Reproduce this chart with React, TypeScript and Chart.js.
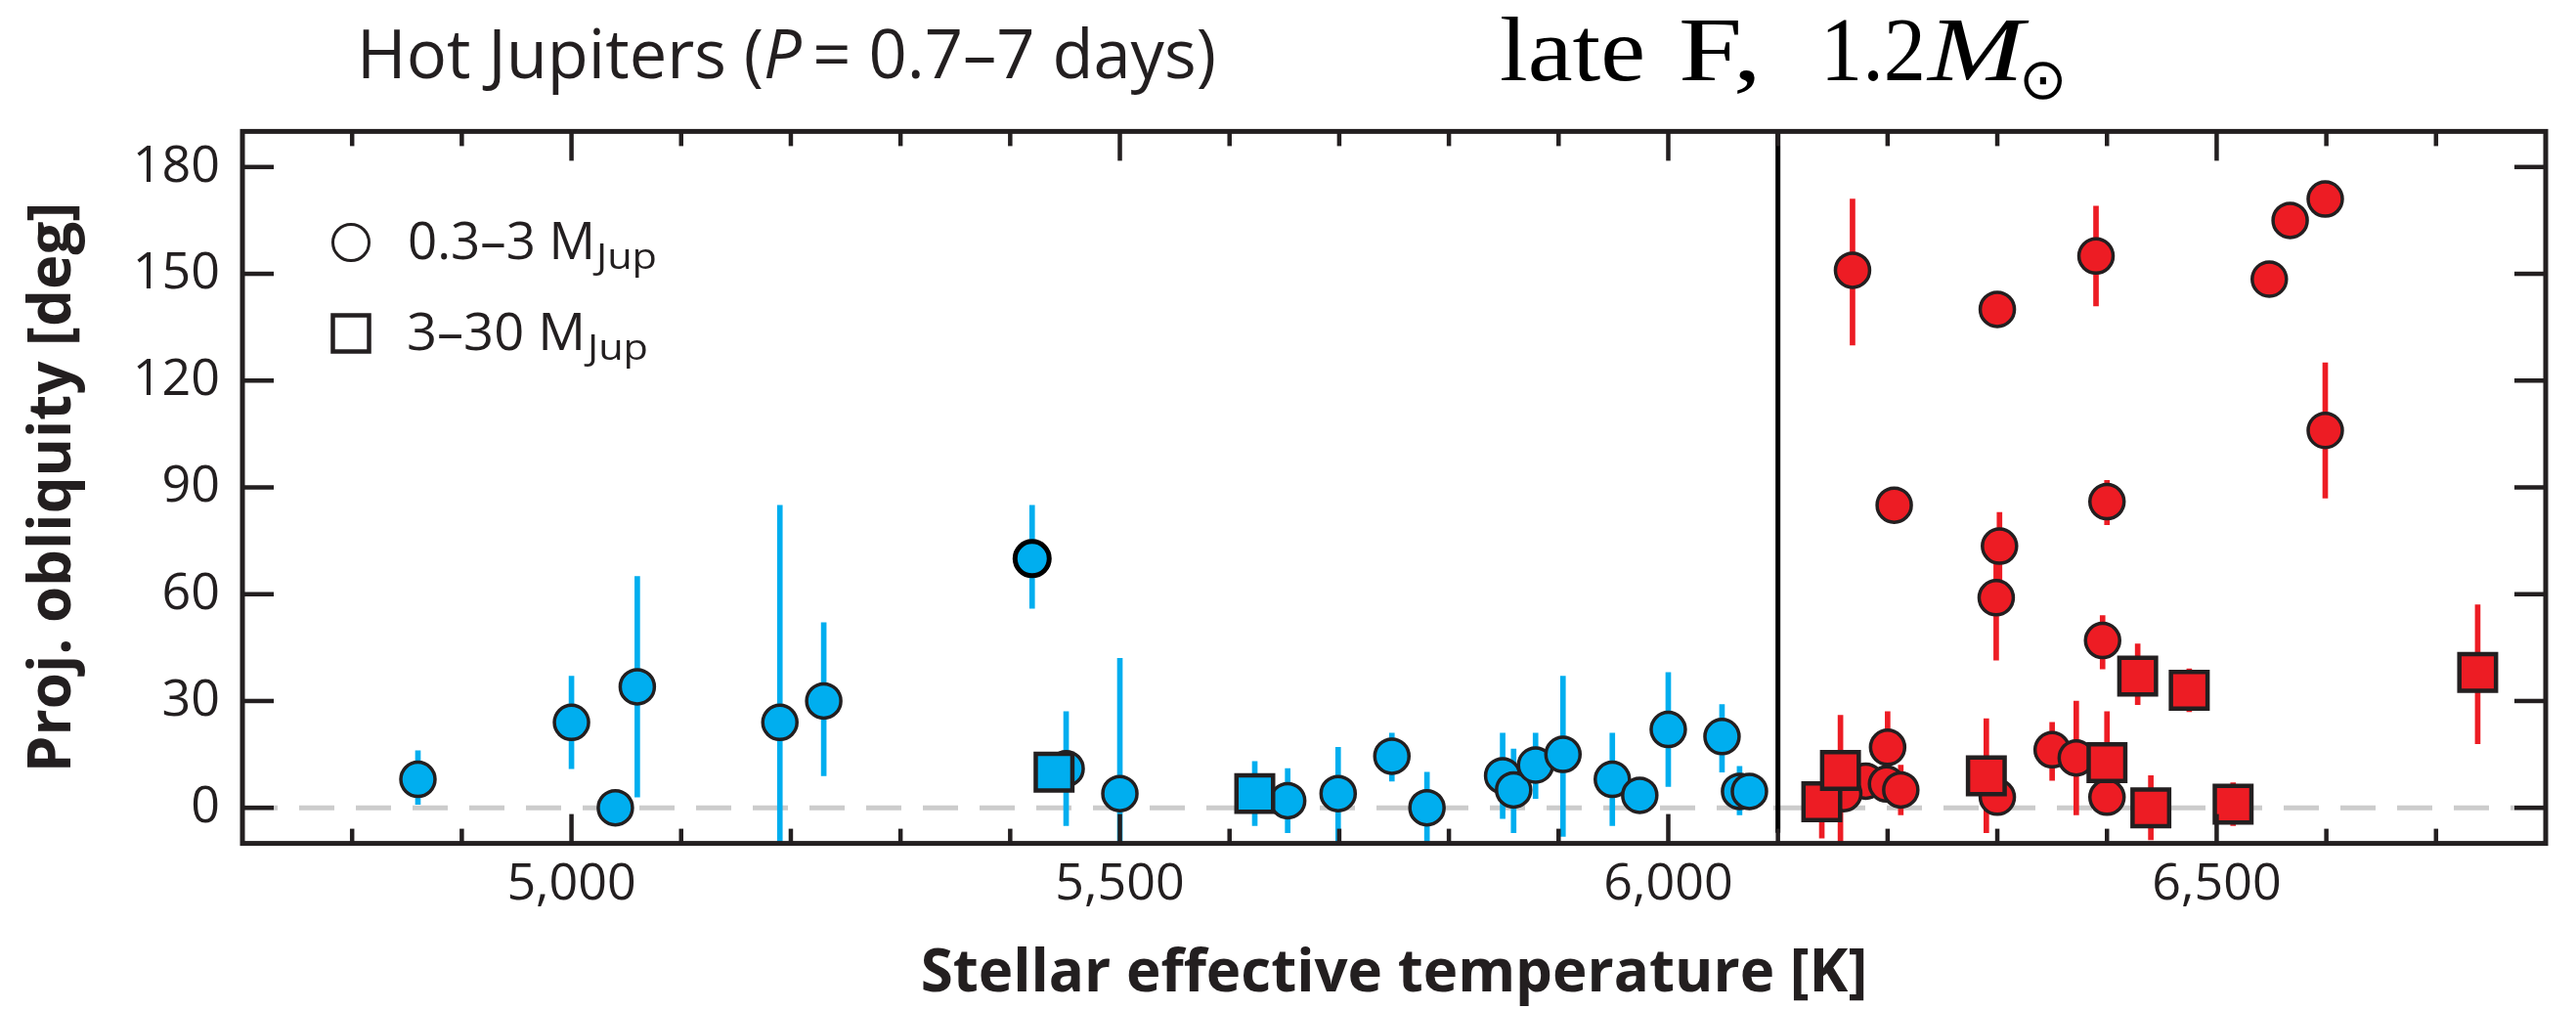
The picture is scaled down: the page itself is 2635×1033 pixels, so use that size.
import React, { useEffect, useRef } from 'react';
import Chart from 'chart.js/auto';

// ---------- axis ranges & ticks ----------
const X_MIN = 4700;
const X_MAX = 6800;
const Y_MIN = -10;
const Y_MAX = 190;
const xMajorTicks = [5000, 5500, 6000, 6500];
const xMinorTicks = [4800, 4900, 5100, 5200, 5300, 5400, 5600, 5700, 5800, 5900, 6100, 6200, 6300, 6400, 6600, 6700];
const yTicks = [0, 30, 60, 90, 120, 150, 180];
const dividerTeff = 6100;

// ---------- blue (cool stars), 0.3–3 MJup circles ----------
const blueCircleTeff = [4860, 5000, 5040, 5060, 5190, 5230, 5451, 5500, 5653, 5699, 5748, 5780, 5849, 5859, 5879, 5904, 5949, 5974, 6000, 6049, 6065, 6074];
const blueCircleObl = [8, 24, 0, 34, 24, 30, 11, 4, 2, 4, 14.5, 0, 9, 5, 12, 15, 8, 3.5, 22, 20, 4.6, 4.6];
const blueCircleLow = [1, 11, null, 3, -10, 9, -5, -10, -7, -10, 7.5, -10, -3, -7, 2.6, -8, -5, null, 6, 10, -2, null];
const blueCircleHigh = [16, 37, null, 65, 85, 52, 27, 42, 11, 17, 21, 10, 21, 16.5, 21, 37, 21, null, 38, 29, 11.6, null];

// highlighted blue point
const blueHiTeff = [5420];
const blueHiObl = [70];
const blueHiLow = [56];
const blueHiHigh = [85];

// ---------- blue, 3–30 MJup squares ----------
const blueSquareTeff = [5440, 5623];
const blueSquareObl = [10, 4];
const blueSquareLow = [null, -5];
const blueSquareHigh = [null, 13];

// ---------- red (hot stars), 0.3–3 MJup circles ----------
const redCircleTeff = [6168, 6300, 6390, 6206, 6400, 6302, 6299, 6396, 6548, 6567, 6599, 6599, 6350, 6372, 6400, 6300, 6200, 6180, 6199, 6212, 6160];
const redCircleObl = [151, 140, 155, 85, 86, 73.5, 59, 47, 148.5, 165, 171, 106, 16.3, 14, 3, 3, 17, 7.5, 6.7, 5, 4];
const redCircleLow = [130, null, 141, null, 79.5, 64, 41.5, 39, null, 161, 168, 87, 7.7, -2, null, null, 8, null, null, -2, null];
const redCircleHigh = [171, null, 169, null, 92, 83, 75, 54, null, 170, 174, 125, 24, 30, null, null, 27, null, null, 12, null];

// ---------- red, 3–30 MJup squares ----------
const redSquareTeff = [6140, 6157, 6290, 6400, 6428, 6440, 6475, 6515, 6738];
const redSquareObl = [1.7, 10.5, 9, 12.7, 37, 0, 33, 1, 38];
const redSquareLow = [-8.5, -9.5, -7, -1, 29, -9, 27, -5, 18];
const redSquareHigh = [5, 26, 25, 27, 46, 9, 39, 7, 57];

const BLUE = '#00AEEF';
const RED = '#ED1C24';
const INK = '#231f20';

type Num = number | null;

function points(xs: number[], ys: number[]) {
  return xs.map((x, i) => ({ x, y: ys[i] }));
}

function errBars(xs: number[], lo: Num[], hi: Num[]) {
  const out: { x: number; y: [number, number] }[] = [];
  xs.forEach((x, i) => {
    const l = lo[i];
    const h = hi[i];
    if (l !== null && h !== null) out.push({ x, y: [l as number, h as number] });
  });
  return out;
}

function fmt(v: number) {
  return String(v).replace(/\B(?=(\d{3})+(?!\d))/g, ',');
}

function fitText(ctx: CanvasRenderingContext2D, text: string, x: number, y: number, font: string, width: number) {
  ctx.font = font;
  const w = ctx.measureText(text).width;
  const sx = width / w;
  ctx.save();
  ctx.translate(x, y);
  ctx.scale(sx, 1);
  ctx.fillText(text, 0, 0);
  ctx.restore();
  return sx;
}

const decorPlugin = {
  id: 'decor',
  beforeDraw(chart: any) {
    const { ctx, width, height } = chart;
    ctx.save();
    ctx.fillStyle = '#ffffff';
    ctx.fillRect(0, 0, width, height);
    ctx.restore();
  },
  afterDraw(chart: any) {
    const { ctx, chartArea: a, scales } = chart;
    const xs = scales.x;
    const ys = scales.y;
    ctx.save();
    ctx.strokeStyle = INK;
    ctx.lineWidth = 5;
    ctx.strokeRect(a.left, a.top, a.right - a.left, a.bottom - a.top);
    ctx.lineWidth = 4.5;
    const seg = (x1: number, y1: number, x2: number, y2: number) => {
      ctx.beginPath();
      ctx.moveTo(x1, y1);
      ctx.lineTo(x2, y2);
      ctx.stroke();
    };
    yTicks.forEach((v) => {
      const p = ys.getPixelForValue(v);
      seg(a.left, p, a.left + 32, p);
      seg(a.right - 32, p, a.right, p);
    });
    xMajorTicks.forEach((v) => {
      const p = xs.getPixelForValue(v);
      seg(p, a.bottom, p, a.bottom - 30);
      seg(p, a.top, p, a.top + 30);
    });
    xMinorTicks.forEach((v) => {
      const p = xs.getPixelForValue(v);
      seg(p, a.bottom, p, a.bottom - 15);
      seg(p, a.top, p, a.top + 15);
    });

    // legend markers
    ctx.lineWidth = 3;
    ctx.beginPath();
    ctx.arc(359, 248, 18.5, 0, Math.PI * 2);
    ctx.stroke();
    ctx.lineWidth = 4.5;
    ctx.strokeRect(359 - 18.5, 341 - 18.5, 37, 37);

    // legend labels
    ctx.fillStyle = INK;
    ctx.textBaseline = 'alphabetic';
    ctx.textAlign = 'left';
    fitText(ctx, '0.3\u20133 M', 417, 265, '400 53px "Open Sans"', 192);
    fitText(ctx, 'Jup', 610, 275, '400 36px "Open Sans"', 62);
    fitText(ctx, '3\u201330 M', 416, 358, '400 53px "Open Sans"', 183);
    fitText(ctx, 'Jup', 601, 368, '400 36px "Open Sans"', 62);

    // left title
    const f1 = '400 69px "Open Sans"';
    const f1i = 'italic 400 69px "Open Sans"';
    const parts: [string, string][] = [
      ['Hot Jupiters (', f1],
      ['P', f1i],
      ['\u2009= 0.7\u20137 days)', f1],
    ];
    let total = 0;
    parts.forEach(([t, f]) => {
      ctx.font = f;
      total += ctx.measureText(t).width;
    });
    const sx = 879 / total;
    ctx.save();
    ctx.translate(365, 80);
    ctx.scale(sx, 1);
    let cx = 0;
    parts.forEach(([t, f]) => {
      ctx.font = f;
      ctx.fillText(t, cx, 0);
      cx += ctx.measureText(t).width;
    });
    ctx.restore();

    // right title (LaTeX-style)
    ctx.fillStyle = '#000';
    fitText(ctx, 'late', 1534, 82, '400 94px "Liberation Serif"', 149);
    fitText(ctx, 'F,', 1717, 82, '400 94px "Liberation Serif"', 85);
    fitText(ctx, '1.2', 1862, 82, '400 94px "Liberation Serif"', 108);
    fitText(ctx, 'M', 1972, 82, 'italic 400 94px "Liberation Serif"', 98);
    // sun symbol subscript
    ctx.font = '400 50px "DejaVu Sans"';
    let m = ctx.measureText('\u2299');
    let h = m.actualBoundingBoxAscent + m.actualBoundingBoxDescent;
    const size = h > 0 ? (50 * 40) / h : 50;
    ctx.font = `400 ${size}px "DejaVu Sans"`;
    m = ctx.measureText('\u2299');
    ctx.fillText('\u2299', 2070 + m.actualBoundingBoxLeft, 63 + m.actualBoundingBoxAscent);
    ctx.restore();
  },
};

export default function App() {
  const ref = useRef<HTMLCanvasElement>(null);

  useEffect(() => {
    const canvas = ref.current;
    if (!canvas) return;
    const markerBase = { showLine: false, pointHoverRadius: 17.5 };
    const chart = new Chart(canvas, {
      type: 'scatter',
      data: {
        datasets: [
          {
            type: 'scatter',
            label: 'zero',
            data: [{ x: X_MIN, y: 0 }, { x: X_MAX, y: 0 }],
            showLine: true,
            borderColor: '#cccccc',
            borderWidth: 5,
            borderDash: [36, 22],
            pointRadius: 0,
            order: 8,
          } as any,
          {
            type: 'bar',
            label: 'blue errors',
            data: [
              ...errBars(blueCircleTeff, blueCircleLow, blueCircleHigh),
              ...errBars(blueHiTeff, blueHiLow, blueHiHigh),
              ...errBars(blueSquareTeff, blueSquareLow, blueSquareHigh),
            ],
            backgroundColor: BLUE,
            borderWidth: 0,
            barThickness: 5,
            grouped: false,
            order: 6,
          } as any,
          {
            type: 'bar',
            label: 'red errors',
            data: [
              ...errBars(redCircleTeff, redCircleLow, redCircleHigh),
              ...errBars(redSquareTeff, redSquareLow, redSquareHigh),
            ],
            backgroundColor: RED,
            borderWidth: 0,
            barThickness: 5,
            grouped: false,
            order: 6,
          } as any,
          {
            ...markerBase,
            type: 'scatter',
            label: '0.3–3 MJup (cool)',
            data: points(blueCircleTeff, blueCircleObl),
            pointStyle: 'circle',
            pointRadius: 17.5,
            pointBackgroundColor: BLUE,
            pointBorderColor: INK,
            pointBorderWidth: 3.5,
            order: 4,
          } as any,
          {
            ...markerBase,
            type: 'scatter',
            label: 'highlighted',
            data: points(blueHiTeff, blueHiObl),
            pointStyle: 'circle',
            pointRadius: 17.5,
            pointBackgroundColor: BLUE,
            pointBorderColor: '#000000',
            pointBorderWidth: 5,
            order: 3,
          } as any,
          {
            ...markerBase,
            type: 'scatter',
            label: '0.3–3 MJup (hot)',
            data: points(redCircleTeff, redCircleObl),
            pointStyle: 'circle',
            pointRadius: 17.5,
            pointBackgroundColor: RED,
            pointBorderColor: INK,
            pointBorderWidth: 3.5,
            order: 4,
          } as any,
          {
            ...markerBase,
            type: 'scatter',
            label: '3–30 MJup (cool)',
            data: points(blueSquareTeff, blueSquareObl),
            pointStyle: 'rect',
            pointRadius: 26.5,
            pointBackgroundColor: BLUE,
            pointBorderColor: INK,
            pointBorderWidth: 4.5,
            order: 2,
          } as any,
          {
            ...markerBase,
            type: 'scatter',
            label: '3–30 MJup (hot)',
            data: points(redSquareTeff, redSquareObl),
            pointStyle: 'rect',
            pointRadius: 26.5,
            pointBackgroundColor: RED,
            pointBorderColor: INK,
            pointBorderWidth: 4.5,
            order: 2,
          } as any,
          {
            type: 'scatter',
            label: 'divider',
            data: [{ x: dividerTeff, y: -7 }, { x: dividerTeff, y: Y_MAX }],
            showLine: true,
            borderColor: '#000000',
            borderWidth: 5,
            pointRadius: 0,
            order: 0,
          } as any,
        ],
      },
      options: {
        responsive: false,
        maintainAspectRatio: false,
        devicePixelRatio: 1,
        animation: false,
        events: [],
        layout: { padding: { left: 0, right: 15, top: 134.4, bottom: 0 } },
        plugins: {
          legend: { display: false },
          tooltip: { enabled: false },
          title: { display: false },
        },
        scales: {
          x: {
            type: 'linear',
            min: X_MIN,
            max: X_MAX,
            offset: false,
            grid: { display: false, drawTicks: false },
            border: { display: false },
            afterBuildTicks: (s: any) => {
              s.ticks = xMajorTicks.map((v) => ({ value: v }));
            },
            afterFit: (s: any) => {
              s.height = 1033 - 862.6;
            },
            ticks: {
              font: { family: '"Open Sans"', size: 52 },
              color: INK,
              padding: 11,
              maxRotation: 0,
              autoSkip: false,
              callback: (v: any) => fmt(Number(v)),
            },
            title: {
              display: true,
              text: 'Stellar effective temperature [K]',
              font: { family: '"Open Sans"', size: 60, weight: 'bold' },
              color: INK,
              padding: { top: 0, bottom: 0 },
            },
          },
          y: {
            type: 'linear',
            min: Y_MIN,
            max: Y_MAX,
            grid: { display: false, drawTicks: false },
            border: { display: false },
            afterBuildTicks: (s: any) => {
              s.ticks = yTicks.map((v) => ({ value: v }));
            },
            afterFit: (s: any) => {
              s.width = 248;
            },
            ticks: {
              font: { family: '"Open Sans"', size: 52 },
              color: INK,
              padding: 23,
              autoSkip: false,
            },
            title: {
              display: true,
              text: 'Proj. obliquity [deg]',
              font: { family: '"Open Sans"', size: 60, weight: 'bold' },
              color: INK,
              padding: { top: 19, bottom: 0 },
            },
          },
        },
      } as any,
      plugins: [decorPlugin as any],
    });
    return () => chart.destroy();
  }, []);

  return (
    <div style={{ position: 'absolute', left: 0, top: 0, width: 2635, height: 1033, background: '#ffffff' }}>
      <canvas ref={ref} width={2635} height={1033} style={{ display: 'block', width: 2635, height: 1033 }} />
    </div>
  );
}
